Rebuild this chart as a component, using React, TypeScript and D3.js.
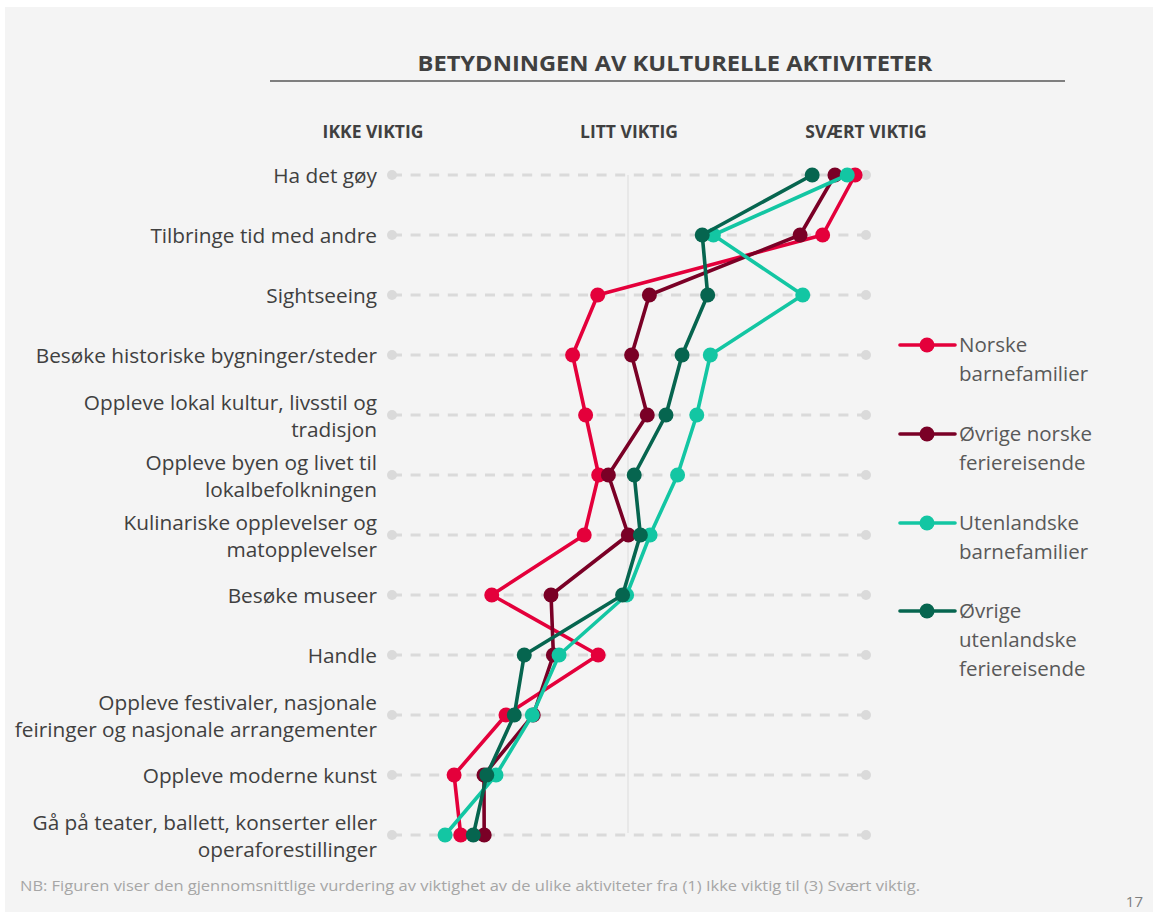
import React from "react";
import * as d3 from "d3";

const categories = [
  "Ha det gøy",
  "Tilbringe tid med andre",
  "Sightseeing",
  "Besøke historiske bygninger/steder",
  "Oppleve lokal kultur, livsstil og\ntradisjon",
  "Oppleve byen og livet til\nlokalbefolkningen",
  "Kulinariske opplevelser og\nmatopplevelser",
  "Besøke museer",
  "Handle",
  "Oppleve festivaler, nasjonale\nfeiringer og nasjonale arrangementer",
  "Oppleve moderne kunst",
  "Gå på teater, ballett, konserter eller\noperaforestillinger",
];

const norskeBarnefamilier = [2.954, 2.817, 1.868, 1.762, 1.817, 1.872, 1.811, 1.421, 1.87, 1.481, 1.262, 1.29];
const ovrigeNorske = [2.869, 2.722, 2.086, 2.011, 2.077, 1.913, 1.997, 1.671, 1.681, 1.596, 1.388, 1.389];
const utenlandskeBarnefamilier = [2.921, 2.356, 2.733, 2.343, 2.286, 2.205, 2.089, 1.99, 1.705, 1.592, 1.439, 1.224];
const ovrigeUtenlandske = [2.773, 2.309, 2.332, 2.224, 2.156, 2.022, 2.048, 1.973, 1.558, 1.516, 1.4, 1.343];

const seriesNames = [
  "Norske\nbarnefamilier",
  "Øvrige norske\nferiereisende",
  "Utenlandske\nbarnefamilier",
  "Øvrige\nutenlandske\nferiereisende",
];
const seriesColors = ["#E4003B", "#7A0026", "#13C6A3", "#06654F"];
const seriesValues = [norskeBarnefamilier, ovrigeNorske, utenlandskeBarnefamilier, ovrigeUtenlandske];

const scaleLabels = ["IKKE VIKTIG", "LITT VIKTIG", "SVÆRT VIKTIG"];
const scaleValues = [1, 2, 3];

const title = "BETYDNINGEN AV KULTURELLE AKTIVITETER";
const footnote =
  "NB: Figuren viser den gjennomsnittlige vurdering av viktighet av de ulike aktiviteter fra (1) Ikke viktig til (3) Svært viktig.";
const pageNumber = "17";

const W = 1153;
const H = 912;
const FONT = "'Open Sans', 'DejaVu Sans', sans-serif";

export default function App() {
  const x = d3.scaleLinear().domain([1, 3]).range([392, 866]);
  const y = d3.scalePoint<string>().domain(categories).range([175, 835]);
  const line = d3
    .line<number>()
    .x((d) => x(d))
    .y((_, i) => y(categories[i]) as number);

  const headerX = [x(1) - 19, x(2), x(3)];

  const legendTops = [345, 434, 523, 611];
  const legendLH = 29;

  return (
    <svg
      width={W}
      height={H}
      style={{ position: "absolute", left: 0, top: 0, background: "#ffffff" }}
      fontFamily={FONT}
    >
      <rect x={5} y={7} width={W - 5} height={H - 7} fill="#F4F4F4" />

      {/* title */}
      <text
        x={675}
        y={71}
        textAnchor="middle"
        fontSize={21}
        fontWeight={700}
        fill="#404040"
        textLength={515}
        lengthAdjust="spacingAndGlyphs"
      >
        {title}
      </text>
      <line x1={270} x2={1065} y1={81} y2={81} stroke="#595959" strokeWidth={1.3} />

      {/* scale headers */}
      {scaleLabels.map((s, i) => (
        <text
          key={s}
          x={headerX[i]}
          y={138}
          textAnchor="middle"
          fontSize={17.5}
          fontWeight={700}
          fill="#404040"
        >
          {s}
        </text>
      ))}

      {/* mid vertical line */}
      <line
        x1={x(scaleValues[1]) - 1}
        x2={x(scaleValues[1]) - 1}
        y1={y(categories[0])}
        y2={(y(categories[categories.length - 1]) as number) - 2}
        stroke="#DCDCDC"
        strokeWidth={1}
      />

      {/* row tracks */}
      {categories.map((c) => {
        const yy = y(c) as number;
        return (
          <g key={"t" + c}>
            <line
              x1={x(1)}
              x2={x(3)}
              y1={yy}
              y2={yy}
              stroke="#DADADA"
              strokeWidth={3}
              strokeDasharray="10 8.6"
            />
            <circle cx={x(1)} cy={yy} r={5} fill="#DADADA" />
            <circle cx={x(3)} cy={yy} r={5} fill="#DADADA" />
          </g>
        );
      })}

      {/* category labels */}
      {categories.map((c) => {
        const yy = y(c) as number;
        const lines = c.split("\n");
        const lh = 27.5;
        const start = yy - ((lines.length - 1) * lh) / 2 + 1;
        return (
          <text key={"l" + c} textAnchor="end" fontSize={20.8} fill="#404040">
            {lines.map((ln, j) => (
              <tspan key={j} x={377} y={start + j * lh} dy="0.35em">
                {ln}
              </tspan>
            ))}
          </text>
        );
      })}

      {/* series */}
      {seriesValues.map((vals, si) => (
        <g key={"s" + si}>
          <path d={line(vals) || ""} fill="none" stroke={seriesColors[si]} strokeWidth={3.6} strokeLinejoin="round" />
          {vals.map((v, i) => (
            <circle key={i} cx={x(v)} cy={y(categories[i]) as number} r={7.5} fill={seriesColors[si]} />
          ))}
        </g>
      ))}

      {/* legend */}
      {seriesNames.map((name, si) => {
        const top = legendTops[si];
        const lines = name.split("\n");
        return (
          <g key={"lg" + si}>
            <line x1={900} x2={955} y1={top} y2={top} stroke={seriesColors[si]} strokeWidth={3.6} strokeLinecap="round" />
            <circle cx={927} cy={top} r={7.5} fill={seriesColors[si]} />
            <text fontSize={20.5} fill="#595959">
              {lines.map((ln, j) => (
                <tspan key={j} x={959} y={top + j * legendLH} dy="0.35em">
                  {ln}
                </tspan>
              ))}
            </text>
          </g>
        );
      })}

      {/* footnote */}
      <text x={20} y={891} fontSize={14} fill="#A6A6A6" textLength={900} lengthAdjust="spacingAndGlyphs">
        {footnote}
      </text>
      <text x={1143} y={907} textAnchor="end" fontSize={15} fill="#7F7F7F">
        {pageNumber}
      </text>
    </svg>
  );
}
